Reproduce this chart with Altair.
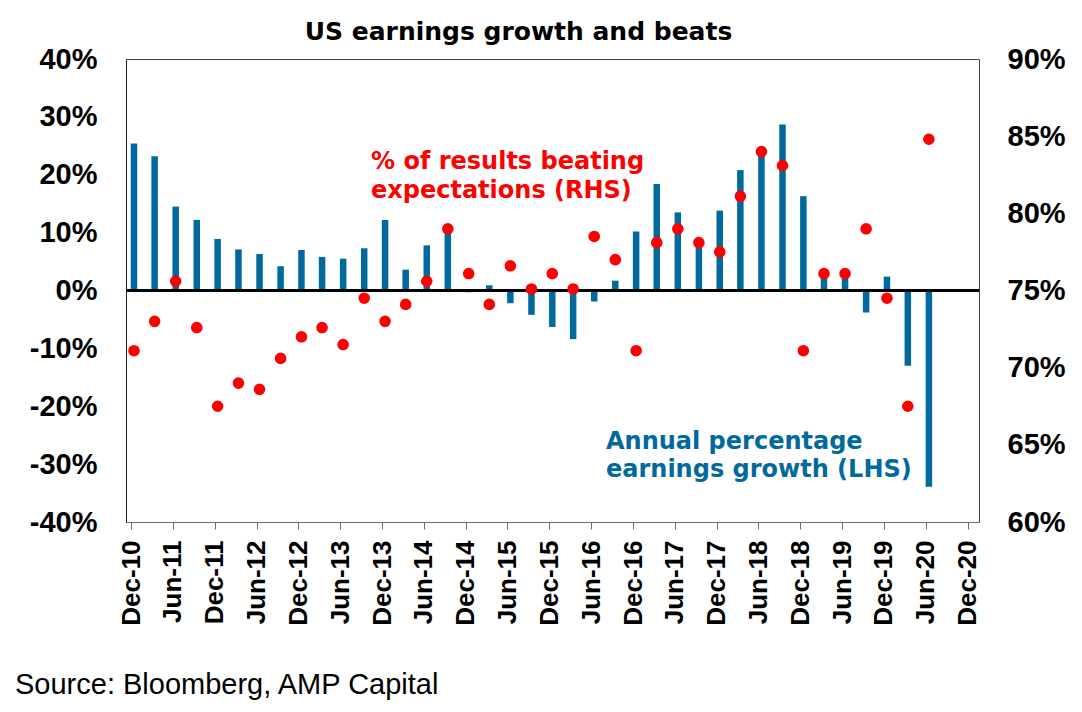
import altair as alt
import pandas as pd

quarters = [
    "2010-12-01", "2011-03-01", "2011-06-01", "2011-09-01", "2011-12-01",
    "2012-03-01", "2012-06-01", "2012-09-01", "2012-12-01", "2013-03-01",
    "2013-06-01", "2013-09-01", "2013-12-01", "2014-03-01", "2014-06-01",
    "2014-09-01", "2014-12-01", "2015-03-01", "2015-06-01", "2015-09-01",
    "2015-12-01", "2016-03-01", "2016-06-01", "2016-09-01", "2016-12-01",
    "2017-03-01", "2017-06-01", "2017-09-01", "2017-12-01", "2018-03-01",
    "2018-06-01", "2018-09-01", "2018-12-01", "2019-03-01", "2019-06-01",
    "2019-09-01", "2019-12-01", "2020-03-01", "2020-06-01",
]

# Annual percentage earnings growth (LHS, %)
growth = [
    25.4, 23.2, 14.5, 12.2, 8.9, 7.1, 6.3, 4.2, 7.0, 5.8,
    5.5, 7.3, 12.2, 3.6, 7.8, 10.5, -0.3, 0.9, -2.2, -4.2,
    -6.3, -8.4, -1.9, 1.7, 10.2, 18.4, 13.5, 8.0, 13.8, 20.8,
    24.0, 28.7, 16.3, 2.5, 2.5, -3.8, 2.4, -13.0, -33.9,
]

# % of results beating expectations (RHS, %)
beats = [
    71.1, 73.0, 75.6, 72.6, 67.5, 69.0, 68.6, 70.6, 72.0, 72.6,
    71.5, 74.5, 73.0, 74.1, 75.6, 79.0, 76.1, 74.1, 76.6, 75.1,
    76.1, 75.1, 78.5, 77.0, 71.1, 78.1, 79.0, 78.1, 77.5, 81.1,
    84.0, 83.1, 71.1, 76.1, 76.1, 79.0, 74.5, 67.5, 84.8,
]

tick_dates = [
    (2010, 12), (2011, 6), (2011, 12), (2012, 6), (2012, 12), (2013, 6),
    (2013, 12), (2014, 6), (2014, 12), (2015, 6), (2015, 12), (2016, 6),
    (2016, 12), (2017, 6), (2017, 12), (2018, 6), (2018, 12), (2019, 6),
    (2019, 12), (2020, 6), (2020, 12),
]
left_ticks = [-40, -30, -20, -10, 0, 10, 20, 30, 40]
right_ticks = [60, 65, 70, 75, 80, 85, 90]

df = pd.DataFrame({"date": quarters, "growth": growth, "beats": beats})
df["zero"] = 0

BLUE = "#006A9E"
RED = "#FF0000"
LAB_FONT = "Liberation Sans"
ANN_FONT = "DejaVu Sans"

x_scale = alt.Scale(
    domain=[alt.DateTime(year=2010, month=12, date=1, utc=True),
            alt.DateTime(year=2020, month=12, date=28, utc=True)],
    nice=False,
)
x_axis = alt.Axis(
    title=None,
    values=[alt.DateTime(year=y, month=m, date=1, utc=True) for y, m in tick_dates],
    labelExpr="utcFormat(datum.value, '%b-%y')",
    labelAngle=270,
    labelAlign="right",
    labelBaseline="middle",
    labelFont=LAB_FONT,
    labelFontSize=26,
    labelFontWeight="bold",
    labelColor="black",
    labelPadding=11,
    tickSize=7,
    tickColor="#6d6d6d",
    domainColor="#6d6d6d",
    grid=False,
    labelOverlap=False,
    labelFlush=False,
)

x_enc = alt.X("date:T", scale=x_scale, axis=x_axis)

left_scale = alt.Scale(domain=[-40, 40], nice=False)
left_axis = alt.Axis(
    title=None,
    values=left_ticks,
    labelExpr="datum.value + '%'",
    labelFont=LAB_FONT,
    labelFontSize=29,
    labelFontWeight="bold",
    labelColor="black",
    ticks=False,
    tickSize=0,
    labelPadding=29,
    domainColor="#222222",
    grid=False,
    labelOverlap=False,
)

base = alt.Chart(df)

bars = base.mark_bar(color=BLUE, size=6.5, xOffset=3).encode(
    x=x_enc,
    y=alt.Y("growth:Q", scale=left_scale, axis=left_axis),
)

zero = base.mark_rule(color="black", strokeWidth=1.5).encode(
    y=alt.Y("zero:Q", scale=left_scale, axis=left_axis),
)

left_layer = alt.layer(bars, zero)

dots = base.mark_circle(color=RED, size=135, opacity=1, xOffset=3).encode(
    x=x_enc,
    y=alt.Y(
        "beats:Q",
        scale=alt.Scale(domain=[60, 90], nice=False, zero=False),
        axis=alt.Axis(
            title=None,
            orient="right",
            values=right_ticks,
            labelExpr="datum.value + '%'",
            labelFont=LAB_FONT,
            labelFontSize=29,
            labelFontWeight="bold",
            labelColor="black",
            ticks=False,
            tickSize=0,
            labelPadding=28,
            domain=False,
            grid=False,
            labelOverlap=False,
        ),
    ),
)

def label(text, x, y, color, font, size, weight="bold", align="left"):
    return alt.Chart(pd.DataFrame({"t": [text]})).mark_text(
        align=align, baseline="alphabetic", font=font, fontSize=size,
        fontWeight=weight, color=color,
    ).encode(x=alt.value(x), y=alt.value(y), text="t:N")

texts = [
    label("% of results beating", 245, 110, RED, ANN_FONT, 24),
    label("expectations (RHS)", 245, 138.5, RED, ANN_FONT, 24),
    label("Annual percentage", 480, 389.5, BLUE, ANN_FONT, 24),
    label("earnings growth (LHS)", 480, 418, BLUE, ANN_FONT, 24),
    label("US earnings growth and beats", 392.5, -19.5, "black", ANN_FONT, 25, align="center"),
    label("Source: Bloomberg, AMP Capital", -111, 635, "black", LAB_FONT, 29, weight="normal"),
]

chart = alt.layer(left_layer, dots, *texts).resolve_scale(y="independent").properties(
    width=853,
    height=463,
    autosize=alt.AutoSizeParams(type="none"),
    padding={"left": 118, "top": 51, "right": 95, "bottom": 180},
    background="white",
).configure_view(
    stroke="#404040",
    strokeWidth=1,
)

chart.save("out.html", embed_options={"renderer": "svg", "actions": False})
